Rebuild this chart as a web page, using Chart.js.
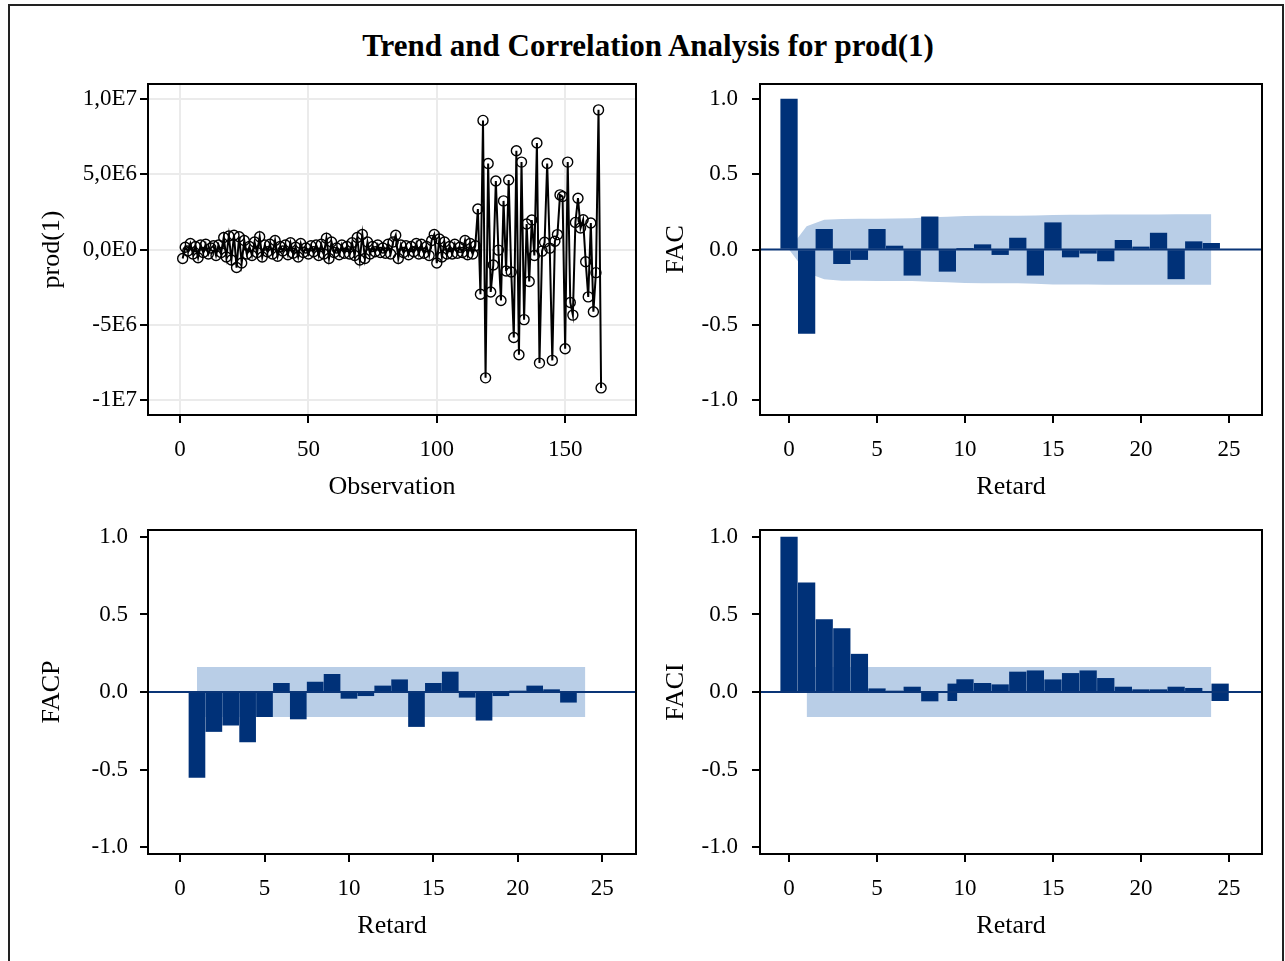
<!DOCTYPE html>
<html><head><meta charset="utf-8">
<script src="https://cdn.jsdelivr.net/npm/chart.js@4.4.1/dist/chart.umd.min.js"></script>
<style>
html,body{margin:0;padding:0;background:#fff;width:1285px;height:961px;overflow:hidden;}
#frame{position:absolute;left:8px;top:4px;width:1276px;height:1000px;border:2px solid #222;box-sizing:border-box;}
#title{position:absolute;left:0;width:1296px;top:28px;text-align:center;font:bold 31px "Liberation Serif","Times New Roman",serif;color:#000;}
canvas{position:absolute;}
</style></head><body>
<div id="frame"></div>
<div id="title">Trend and Correlation Analysis for prod(1)</div>
<canvas id="c1" width="660" height="460" style="left:0px;top:60px;width:660px;height:460px"></canvas>
<canvas id="c2" width="625" height="460" style="left:660px;top:60px;width:625px;height:460px"></canvas>
<canvas id="c3" width="660" height="441" style="left:0px;top:520px;width:660px;height:441px"></canvas>
<canvas id="c4" width="625" height="441" style="left:660px;top:520px;width:625px;height:441px"></canvas>
<script>
// ---------- DATA ----------
const seriesValues = [
 -6.0e5, 1.5e5, -1.0e5, 4.0e5, -3.0e5, 2.0e5, -5.5e5, 3.0e5, -2.0e5, 3.5e5,
 -3.0e5, 1.0e5, 2.5e5, -4.0e5, 3.0e5, -2.0e5, 8.0e5, -5.0e5, 9.0e5, -7.0e5,
 9.5e5, -1.2e6, 8.5e5, -9.0e5, 6.0e5, -3.0e5, 2.0e5, -4.0e5, 5.0e5, -2.0e5,
 8.5e5, -5.0e5, 3.0e5, -1.5e5, 3.5e5, -3.0e5, 6.0e5, -4.5e5, 2.0e5, -1.0e5,
 3.0e5, -3.5e5, 4.5e5, -2.5e5, 1.5e5, -5.0e5, 4.0e5, -2.0e5, 1.0e5, -3.0e5,
 2.5e5, -1.5e5, 3.0e5, -4.0e5, 3.5e5, -3.0e5, 7.5e5, -6.0e5, 5.0e5, -2.0e5,
 1.0e5, -3.5e5, 3.0e5, -2.5e5, 2.0e5, -3.0e5, 4.5e5, -4.0e5, 8.0e5, -7.0e5,
 1.0e6, -6.0e5, 5.0e5, -3.0e5, 2.0e5, -1.5e5, 3.0e5, -2.0e5, 1.0e5, -2.5e5,
 3.5e5, -3.0e5, 5.0e5, 9.5e5, -6.0e5, 3.0e5, -2.0e5, 2.5e5, -3.5e5, 2.0e5,
 -1.5e5, 4.0e5, -3.0e5, 3.5e5, -2.5e5, 2.0e5, -4.0e5, 6.0e5, 1.0e6, -9.0e5,
 7.0e5, -5.0e5, 5.0e5, -3.0e5, 2.0e5, -3.0e5, 3.5e5, -2.5e5, 1.5e5, -2.0e5,
 6.0e5, -3.5e5, 4.0e5, -3.0e5, 2.5e5,
 2.69e6, -2.97e6, 8.58e6, -8.53e6, 5.72e6, -2.82e6, -1.03e6, 4.55e6, -4.0e4, -3.39e6,
 3.23e6, -1.43e6, 4.62e6, -1.50e6, -5.85e6, 6.56e6, -7.00e6, 5.81e6, -4.66e6, 1.69e6,
 -2.13e6, 1.96e6, -4.0e5, 7.08e6, -7.55e6, -1.1e5, 4.8e5, 5.72e6, 9.0e4, -7.37e6,
 5.5e5, 9.9e5, 3.63e6, 3.52e6, -6.60e6, 5.81e6, -3.52e6, -4.36e6, 1.80e6, 3.41e6,
 1.43e6, 1.98e6, -8.1e5, -3.15e6, 1.76e6, -4.14e6, -1.54e6, 9.28e6, -9.20e6
];
const seriesTickValuesX = [0, 50, 100, 150];
const seriesTickLabelsX = ['0', '50', '100', '150'];
const seriesTickValuesY = [-1e7, -5e6, 0, 5e6, 1e7];
const seriesTickLabelsY = ['-1E7', '-5E6', '0,0E0', '5,0E6', '1,0E7'];

const acfLags = [0,1,2,3,4,5,6,7,8,9,10,11,12,13,14,15,16,17,18,19,20,21,22,23,24];
const acfValues = [1.0, -0.557, 0.134, -0.094, -0.067, 0.134, 0.023, -0.171, 0.217, -0.145,
  0.004, 0.032, -0.034, 0.076, -0.171, 0.178, -0.05, -0.025, -0.076, 0.061,
  0.017, 0.109, -0.195, 0.052, 0.041];
const acfBandUpper = [0, 0.155, 0.198, 0.203, 0.204, 0.205, 0.206, 0.208, 0.214, 0.217,
  0.222, 0.224, 0.224, 0.225, 0.226, 0.229, 0.231, 0.231, 0.232, 0.232,
  0.233, 0.233, 0.234, 0.235, 0.235];
const acfBandLower = [0, -0.155, -0.198, -0.207, -0.208, -0.209, -0.209, -0.21, -0.215, -0.217,
  -0.222, -0.224, -0.224, -0.225, -0.228, -0.232, -0.233, -0.233, -0.234, -0.234,
  -0.235, -0.235, -0.235, -0.235, -0.235];

const pacfLags = [1,2,3,4,5,6,7,8,9,10,11,12,13,14,15,16,17,18,19,20,21,22,23,24];
const pacfValues = [-0.551, -0.255, -0.214, -0.322, -0.159, 0.056, -0.174, 0.064, 0.114, -0.041,
  -0.024, 0.039, 0.079, -0.223, 0.056, 0.129, -0.034, -0.182, -0.024, 0.004,
  0.039, 0.015, -0.066, 0.0];
const pacfBandLags = [1, 24];
const pacfBandUpper = [0.161, 0.161];
const pacfBandLower = [-0.161, -0.161];

const iacfLags = [0,1,2,3,4,5,6,7,8,9,10,11,12,13,14,15,16,17,18,19,20,21,22,23,24];
const iacfValues = [1.0, 0.705, 0.467, 0.409, 0.244, 0.021, 0.005, 0.032, -0.058, 0.0,
  0.08, 0.056, 0.047, 0.129, 0.137, 0.079, 0.12, 0.137, 0.088, 0.032,
  0.015, 0.015, 0.032, 0.024, 0.0];
const iacfOddLagsA = [9.28];
const iacfOddRangeA = [[-0.056, 0.052]];
const iacfOddLagsB = [24.5];
const iacfOddRangeB = [[-0.056, 0.052]];
const iacfBandLags = [1, 24];
const iacfBandUpper = [0.161, 0.161];
const iacfBandLower = [-0.161, -0.161];

const lagTickValues = [0, 5, 10, 15, 20, 25];
const lagTickLabels = ['0', '5', '10', '15', '20', '25'];
const corrTickValues = [-1, -0.5, 0, 0.5, 1];
const corrTickLabels = ['-1.0', '-0.5', '0.0', '0.5', '1.0'];

// ---------- STYLE ----------
const serif = '"Liberation Serif", "Times New Roman", serif';
const NAVY = '#003178';
const BAND = '#b9cee7';
const TICK_SIZE = 23, TITLE_SIZE = 26;

const boxPlugin = {
  id: 'box',
  afterDatasetsDraw(chart, args, opts) {
    const {ctx, chartArea: a, scales} = chart;
    ctx.save();
    if (opts.zeroLine) {
      const y = scales.y.getPixelForValue(0);
      ctx.strokeStyle = '#0a3577'; ctx.lineWidth = 2;
      ctx.beginPath(); ctx.moveTo(a.left, y); ctx.lineTo(a.right, y); ctx.stroke();
    }
    ctx.strokeStyle = '#000'; ctx.lineWidth = 2;
    ctx.strokeRect(a.left, a.top, a.right - a.left, a.bottom - a.top);
    ctx.restore();
  }
};

function axis(o) {
  return {
    type: 'linear', min: o.min, max: o.max, offset: false,
    afterBuildTicks: s => { s.ticks = o.ticks.map(v => ({value: v})); },
    afterFit: s => {
      if (o.width) s.width = o.width;
      if (o.height) s.height = o.height;
      s.paddingTop = 0; s.paddingBottom = 0; s.paddingLeft = 0; s.paddingRight = 0;
    },
    ticks: { autoSkip: false, maxRotation: 0, color: '#000', padding: o.tickPad,
      font: {family: serif, size: TICK_SIZE},
      callback: v => o.labels[o.ticks.indexOf(v)] },
    grid: { display: true, offset: false, drawOnChartArea: !!o.grid, color: o.grid ? '#ebebeb' : '#000',
      lineWidth: 2, tickLength: 8, tickColor: '#000', tickWidth: 2 },
    border: { display: false },
    title: { display: true, text: o.title, color: '#000', font: {family: serif, size: TITLE_SIZE},
      padding: o.titlePad }
  };
}

function baseOptions(x, y, zero) {
  return {
    responsive: false, animation: false, devicePixelRatio: 1,
    layout: { padding: x.layoutPad },
    plugins: { legend: {display: false}, tooltip: {enabled: false}, box: {zeroLine: zero} },
    scales: { x: axis(x), y: axis(y) }
  };
}

function bandSets(lags, up, lo) {
  return [
    {type: 'line', data: lags.map((l, i) => ({x: l, y: up[i]})), fill: '+1', backgroundColor: BAND,
     borderColor: 'rgba(0,0,0,0)', borderWidth: 0, pointRadius: 0, order: 5},
    {type: 'line', data: lags.map((l, i) => ({x: l, y: lo[i]})), fill: false,
     borderColor: 'rgba(0,0,0,0)', borderWidth: 0, pointRadius: 0, order: 6}
  ];
}
function barSet(lags, vals, thick) {
  return {type: 'bar', data: lags.map((l, i) => ({x: l, y: vals[i]})), backgroundColor: NAVY,
    borderWidth: 0, barThickness: thick, grouped: false, order: 1};
}

// ---------- CHART 1: series ----------
new Chart(document.getElementById('c1'), {
  type: 'line',
  data: { datasets: [{
    data: seriesValues.map((v, i) => ({x: i + 1, y: v})),
    borderColor: '#000', borderWidth: 2, pointRadius: 5, pointBorderWidth: 1.4,
    pointBorderColor: '#000', pointBackgroundColor: 'rgba(0,0,0,0)', tension: 0
  }]},
  options: baseOptions(
    {min: -12.5, max: 177.6, ticks: seriesTickValuesX, labels: seriesTickLabelsX, title: 'Observation',
     grid: true, height: 105, tickPad: 13, titlePad: {top: 0, bottom: 17},
     layoutPad: {top: 24, right: 24, left: 0, bottom: 0}},
    {min: -1.1e7, max: 1.1e7, ticks: seriesTickValuesY, labels: seriesTickLabelsY, title: 'prod(1)',
     grid: true, width: 148, tickPad: 3, titlePad: {top: 36.4, bottom: 0}},
    false),
  plugins: [boxPlugin]
});

// ---------- CHART 2: FAC ----------
new Chart(document.getElementById('c2'), {
  type: 'bar',
  data: { datasets: [barSet(acfLags, acfValues, 16.6), ...bandSets(acfLags, acfBandUpper, acfBandLower)] },
  options: baseOptions(
    {min: -1.65, max: 26.88, ticks: lagTickValues, labels: lagTickLabels, title: 'Retard',
     height: 105, tickPad: 13, titlePad: {top: 0, bottom: 17},
     layoutPad: {top: 24, right: 23, left: 0, bottom: 0}},
    {min: -1.1, max: 1.1, ticks: corrTickValues, labels: corrTickLabels, title: 'FAC',
     width: 100, tickPad: 14, titlePad: {top: 0.4, bottom: 0}},
    true),
  plugins: [boxPlugin]
});

// ---------- CHART 3: FACP ----------
new Chart(document.getElementById('c3'), {
  type: 'bar',
  data: { datasets: [barSet(pacfLags, pacfValues, 16), ...bandSets(pacfBandLags, pacfBandUpper, pacfBandLower)] },
  options: baseOptions(
    {min: -1.9, max: 27.0, ticks: lagTickValues, labels: lagTickLabels, title: 'Retard',
     height: 107, tickPad: 13, titlePad: {top: 0, bottom: 19},
     layoutPad: {top: 10, right: 24, left: 0, bottom: 0}},
    {min: -1.045, max: 1.045, ticks: corrTickValues, labels: corrTickLabels, title: 'FACP',
     width: 148, tickPad: 12, titlePad: {top: 36.4, bottom: 0}},
    true),
  plugins: [boxPlugin]
});

// ---------- CHART 4: FACI ----------
new Chart(document.getElementById('c4'), {
  type: 'bar',
  data: { datasets: [
    barSet(iacfLags, iacfValues, 16.6),
    {type: 'bar', data: iacfOddLagsA.map((l, i) => ({x: l, y: iacfOddRangeA[i]})), backgroundColor: NAVY,
     borderWidth: 0, barThickness: 9, grouped: false, order: 2},
    {type: 'bar', data: iacfOddLagsB.map((l, i) => ({x: l, y: iacfOddRangeB[i]})), backgroundColor: NAVY,
     borderWidth: 0, barThickness: 16.6, grouped: false, order: 2},
    ...bandSets(iacfBandLags, iacfBandUpper, iacfBandLower)] },
  options: baseOptions(
    {min: -1.65, max: 26.88, ticks: lagTickValues, labels: lagTickLabels, title: 'Retard',
     height: 107, tickPad: 13, titlePad: {top: 0, bottom: 19},
     layoutPad: {top: 10, right: 23, left: 0, bottom: 0}},
    {min: -1.045, max: 1.045, ticks: corrTickValues, labels: corrTickLabels, title: 'FACI',
     width: 100, tickPad: 14, titlePad: {top: 0.4, bottom: 0}},
    true),
  plugins: [boxPlugin]
});
</script>
</body></html>
